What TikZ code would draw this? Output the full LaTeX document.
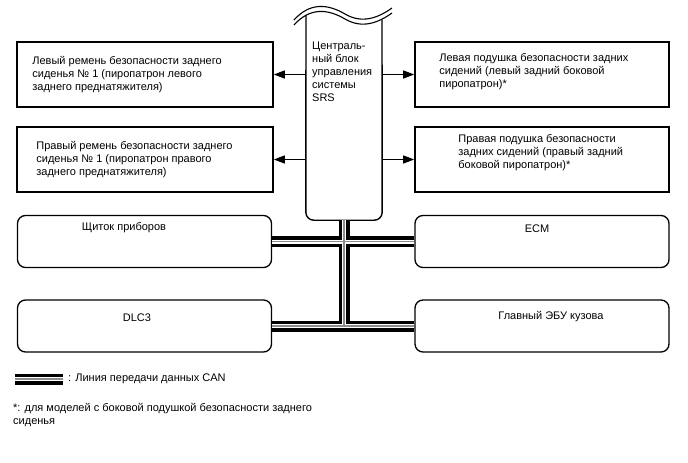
\documentclass[tikz,border=0pt]{standalone}
\usepackage{fontspec}
\setmainfont{Liberation Sans}
\usetikzlibrary{arrows.meta,positioning}
\tikzset{
    srs diagram/.style = {x=1pt, y=-1pt,
                          >={Triangle[length=11pt, width=8pt]}},
    squib/.style       = {draw, line width=1.6pt, inner sep=0pt,
                          minimum width=256pt, minimum height=65pt},
    ecu/.style         = {draw, line width=1.3pt, rounded corners=8pt,
                          inner sep=0pt, minimum width=254pt,
                          minimum height=52pt},
    txt/.style         = {font=\fontsize{11}{12.9}\selectfont,
                          align=left, inner sep=0pt},
    feed/.style        = {->, line width=1.4pt},
    can/.style         = {line width=11pt,
                          postaction={draw=white, line width=4pt},
                          postaction={draw=black!45, line width=1.2pt}},
    outline/.style     = {line width=1.4pt}
}

\begin{document}
\begin{tikzpicture}[srs diagram]
\useasboundingbox (0,0) rectangle (688,463);

% SRS airbag ECU, cut off at the top.
\node[minimum width=76pt, minimum height=200pt, inner sep=0pt]
    (srs) at (344,120) {};
\draw[outline, rounded corners=8pt]
    (306,15) -- (srs.south west) -- (srs.south east) -- (382,19.6);
\draw[line width=1.1pt] (294,20) .. controls (310,2) and (328,4) .. (345,14)
    .. controls (362,24) and (378,18) .. (392,8);
\draw[line width=1.1pt] (294,25) .. controls (310,7) and (328,9) .. (345,19)
    .. controls (362,29) and (378,23) .. (392,13);
\node[txt, anchor=north west] (srstext) at (312,42)
    {Централь-\\ный блок\\управления\\системы\\SRS};

% Squibs driven by the ECU.
\node[squib] (lbelt) at (145,74.5) {};
\node[squib] (rbelt) at (145,159.5) {};
\node[squib, minimum width=254pt] (lbag) at (542,74.5) {};
\node[squib, minimum width=254pt] (rbag) at (542,159.5) {};
\node[txt, right=16pt of lbelt.west] (lbelttext)
    {Левый ремень безопасности заднего\\сиденья № 1 (пиропатрон левого\\заднего преднатяжителя)};
\node[txt, right=20pt of rbelt.west] (rbelttext)
    {Правый ремень безопасности заднего\\сиденья № 1 (пиропатрон правого\\заднего преднатяжителя)};
\node[txt, right=25pt of lbag.west, yshift=2.5pt] (lbagtext)
    {Левая подушка безопасности задних\\сидений (левый задний боковой\\пиропатрон)*};
\node[txt, right=44pt of rbag.west, yshift=6.5pt] (rbagtext)
    {Правая подушка безопасности\\задних сидений (правый задний\\боковой пиропатрон)*};
\draw[feed] (srs.west |- lbelt.east) -- (lbelt.east);
\draw[feed] (srs.west |- rbelt.east) -- (rbelt.east);
\draw[feed] (srs.east |- lbag.west) -- (lbag.west);
\draw[feed] (srs.east |- rbag.west) -- (rbag.west);

% Units on the CAN bus.
\node[ecu] (cluster) at (144.5,241.5) {};
\node[ecu] (ecm) at (542,241.5) {};
\node[ecu] (dlc) at (144.5,326) {};
\node[ecu] (body) at (542,326) {};
\node[txt] (clustertext) at (124,228) {Щиток приборов};
\node[txt] (ecmtext) at (537,229) {ECM};
\node[txt] (dlctext) at (137,318) {DLC3};
\node[txt] (bodytext) at (551,317) {Главный ЭБУ кузова};
\draw[can] (cluster.east) -- (ecm.west)
    (srs.south) -- (srs.south |- dlc.east)
    (dlc.east) -- (body.west);

% Legend and footnote.
\coordinate (legstart) at (15,379);
\coordinate (legend) at (63,379);
\draw[can] (legstart) -- (legend);
\node[txt, right=5pt of legend] (legtext) {: Линия передачи данных CAN};
\node[txt, anchor=north west] (note) at (13,403)
    {*: для моделей с боковой подушкой безопасности заднего\\сиденья};

\end{tikzpicture}
\end{document}
